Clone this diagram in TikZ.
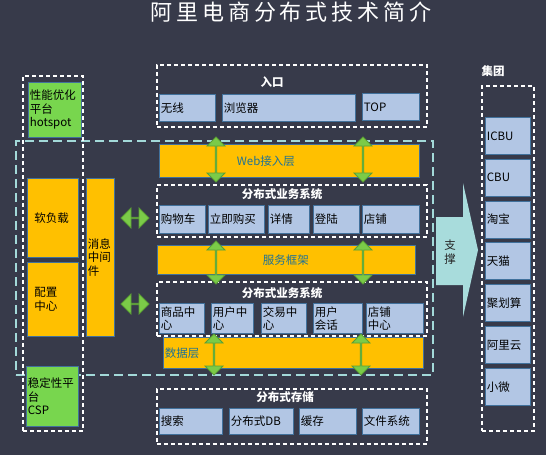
\documentclass[tikz,border=0pt]{standalone}
\usepackage{fontspec}
\setmainfont{Noto Sans CJK SC}
\newfontfamily\titlefont[LetterSpace=18]{Noto Sans CJK SC}
\usetikzlibrary{arrows,shapes.arrows}
\definecolor{bg}{HTML}{373A4A}
\definecolor{itemfill}{HTML}{B2C6E4}
\definecolor{itemline}{HTML}{41719C}
\definecolor{layerfill}{HTML}{FFC000}
\definecolor{layertext}{HTML}{1F7296}
\definecolor{platfill}{HTML}{78D64E}
\definecolor{arrowfill}{HTML}{7BCB48}
\definecolor{arrowline}{HTML}{5A9E35}
\definecolor{zone}{HTML}{A3D9D9}
\definecolor{support}{HTML}{A8DCDC}
\tikzstyle{base}=[font=\fontsize{11.5}{13.5}\selectfont, inner xsep=1.5pt, inner ysep=0pt, anchor=north west, align=left, line width=0.8pt]
\tikzstyle{item}=[base, draw=itemline, fill=itemfill]
\tikzstyle{layer}=[base, draw=itemline, fill=layerfill]
\tikzstyle{plat}=[base, draw=itemline, fill=platfill]
\tikzstyle{dashbox}=[draw=white, dash pattern=on 4pt off 3pt, line width=1.8pt, anchor=north west, inner sep=0pt]
\tikzstyle{head}=[text=white, font=\fontsize{11.5}{13}\selectfont\bfseries]
\tikzstyle{dblarrow}=[shape=double arrow, draw=arrowline, fill=arrowfill, line width=0.8pt, inner sep=0pt, double arrow head extend=4pt, double arrow tip angle=90]
\tikzset{wh/.style 2 args={text width=#1pt-3pt, minimum height=#2pt}}

\begin{document}
\begin{tikzpicture}[x=1pt,y=-1pt]
\fill[bg] (0,0) rectangle (546,455);
\useasboundingbox (0,0) rectangle (546,455);
\node[text=white, font=\titlefont\fontsize{22}{26}\selectfont] (title) at (291,12.5) {阿里电商分布式技术简介};

% zones
\node[draw=zone, dash pattern=on 9pt off 5pt, line width=1.8pt, anchor=north west, inner sep=0pt, minimum width=417pt, minimum height=234pt] (zone) at (15,140) {};
\node[dashbox, minimum width=60pt, minimum height=355pt] (left) at (22,75) {};
\node[dashbox, minimum width=270pt, minimum height=62pt] (entry) at (156,64) {};
\node[dashbox, minimum width=270pt, minimum height=52pt] (biz1) at (156,184) {};
\node[dashbox, minimum width=270pt, minimum height=54pt] (biz2) at (156,281) {};
\node[dashbox, minimum width=270pt, minimum height=55pt] (store) at (156,388) {};
\node[dashbox, minimum width=52pt, minimum height=345pt] (group) at (481,85) {};

\node[head] (entrylbl) at (272,82) {入口};
\node[head] (biz1lbl) at (282,194) {分布式业务系统};
\node[head] (biz2lbl) at (282,293) {分布式业务系统};
\node[head] (storelbl) at (285,397) {分布式存储};
\node[head] (grouplbl) at (493,71) {集团};

% entry
\node[item, wh={56}{27}] (wireless) at (159,94) {无线};
\node[item, wh={133}{27}] (browser) at (222,94) {浏览器};
\node[item, wh={57}{27}] (top) at (362,93) {TOP};

% left column
\node[plat, wh={53}{55}] (hotspot) at (28,82) {性能优化\\平台\\hotspot};
\node[layer, wh={40}{79}, inner xsep=7pt] (slb) at (27,178) {软负载};
\node[layer, wh={40}{74}, inner xsep=7pt] (config) at (27,262) {配置\\中心};
\node[layer, wh={28}{158}] (mq) at (86,178) {消息\\中间\\件};
\node[plat, wh={52}{60}] (csp) at (26,366) {稳定性平\\台\\CSP};

% layers
\node[layer, wh={260}{33}, text=layertext] (web) at (159,144) {\hspace*{76pt}Web接入层};
\node[layer, wh={258}{29}, text=layertext] (svc) at (157,245) {\hspace*{104pt}服务框架};
\node[layer, wh={260}{31}, text=layertext] (data) at (163,337) {数据层};

% business rows
\foreach \x/\w/\t [count=\i] in {159/46/购物车, 208/56/立即购买, 268/41/详情, 313/46/登陆, 362/57/店铺}
\node[item, wh={\w}{28}] (bizA\i) at (\x,205) {\t};
\foreach \x/\w/\t [count=\i] in {159/45/{商品中\\心}, 211/42/{用户中\\心}, 261/45/{交易中\\心}, 313/49/{用户\\会话}, 366/57/{店铺\\中心}}
\node[item, wh={\w}{30}] (bizB\i) at (\x,303) {\t};
\foreach \x/\w/\t [count=\i] in {159/63/搜索, 229/64/分布式DB, 299/57/缓存, 362/57/文件系统}
\node[item, wh={\w}{26}] (st\i) at (\x,408) {\t};

% group
\foreach \t [count=\i from 0] in {ICBU, CBU, 淘宝, 天猫, 聚划算, 阿里云, 小微}
\node[item, wh={45}{37}] (grp\i) at (485,{117+41.8*\i}) {\t};

% arrows
\node[dblarrow, minimum height=28pt, minimum width=20pt, double arrow head extend=5pt] (mqA) at (135,218) {};
\node[dblarrow, minimum height=28pt, minimum width=20pt, double arrow head extend=5pt] (mqB) at (135,304) {};
\foreach \x/\y/\l [count=\i] in {216/159.5/45, 363/159.5/45, 216/262.5/43, 363/262.5/43, 214/354.5/41, 361/354.5/41}
\node[dblarrow, rotate=90, minimum height=\l pt, minimum width=18pt] (va\i) at (\x,\y) {};

\fill[support] (436,217) -- (463,217) -- (463,183) -- (478,250) -- (463,317) -- (463,285) -- (436,285) -- cycle;
\node[font=\fontsize{11.5}{14.5}\selectfont, text=black!85, align=center] (support) at (450,252) {支\\撑};
\end{tikzpicture}
\end{document}
